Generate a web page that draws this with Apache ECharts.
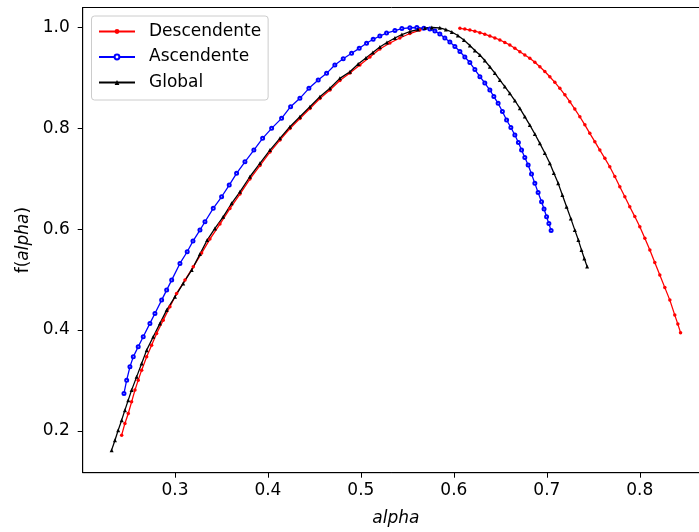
<!DOCTYPE html>
<html>
<head>
<meta charset="utf-8">
<script src="https://cdn.jsdelivr.net/npm/echarts@6/dist/echarts.min.js"></script>
<style>html,body{margin:0;padding:0;background:#fff;}#c{width:699px;height:532px;}</style>
</head>
<body>
<div id="c"></div>
<script>
const xTicks = [0.3, 0.4, 0.5, 0.6, 0.7, 0.8];
const yTicks = [0.2, 0.4, 0.6, 0.8, 1.0];
const seriesNames = ['Descendente', 'Ascendente', 'Global'];

// Descendente: left branch and right branch (no visible link between them in the source image)
const descAlphaLeft = [0.2427,0.2462,0.2498,0.2534,0.2570,0.2605,0.2642,0.2696,0.2749,0.2803,0.2874,0.2946,0.3018,0.3108,0.3197,0.3287,0.3376,0.3484,0.3591,0.3699,0.3806,0.3914,0.4022,0.4129,0.4237,0.4344,0.4452,0.4559,0.4667,0.4774,0.4882,0.4989,0.5097,0.5204,0.5312,0.5419,0.5527,0.5634];
const descFLeft = [0.1915,0.2147,0.2345,0.2575,0.2808,0.3006,0.3204,0.3468,0.3700,0.3933,0.4196,0.4460,0.4726,0.4990,0.5254,0.5526,0.5804,0.6101,0.6409,0.6696,0.6994,0.7262,0.7530,0.7768,0.7996,0.8194,0.8393,0.8591,0.8760,0.8948,0.9097,0.9256,0.9415,0.9573,0.9692,0.9792,0.9881,0.9950];
const descAlphaRight = [0.6065,0.6118,0.6172,0.6226,0.6280,0.6333,0.6387,0.6441,0.6495,0.6548,0.6602,0.6656,0.6710,0.6763,0.6817,0.6871,0.6925,0.6978,0.7032,0.7086,0.7140,0.7194,0.7247,0.7301,0.7355,0.7409,0.7462,0.7516,0.7570,0.7624,0.7677,0.7731,0.7785,0.7839,0.7892,0.7946,0.8000,0.8054,0.8108,0.8161,0.8215,0.8269,0.8323,0.8376,0.8409,0.8438];
const descFRight = [0.9984,0.9970,0.9950,0.9927,0.9897,0.9867,0.9831,0.9794,0.9752,0.9704,0.9653,0.9589,0.9520,0.9456,0.9389,0.9310,0.9222,0.9127,0.9024,0.8913,0.8794,0.8665,0.8528,0.8383,0.8230,0.8069,0.7901,0.7736,0.7569,0.7405,0.7238,0.7044,0.6841,0.6643,0.6444,0.6250,0.6048,0.5819,0.5585,0.5337,0.5089,0.4841,0.4593,0.4296,0.4117,0.3948];

const ascAlpha = [0.2452,0.2481,0.2516,0.2552,0.2605,0.2659,0.2731,0.2785,0.2857,0.2911,0.2965,0.3054,0.3132,0.3194,0.3269,0.3323,0.3412,0.3502,0.3584,0.3663,0.3753,0.3849,0.3943,0.4040,0.4147,0.4244,0.4344,0.4441,0.4541,0.4631,0.4720,0.4810,0.4900,0.4982,0.5061,0.5132,0.5204,0.5276,0.5366,0.5441,0.5527,0.5602,0.5677,0.5742,0.5796,0.5849,0.5903,0.5957,0.6011,0.6065,0.6118,0.6172,0.6226,0.6280,0.6333,0.6387,0.6430,0.6476,0.6522,0.6567,0.6613,0.6656,0.6694,0.6728,0.6763,0.6799,0.6835,0.6871,0.6906,0.6943,0.6970,0.6997,0.7022,0.7046];
const ascF = [0.2742,0.3006,0.3270,0.3468,0.3667,0.3865,0.4131,0.4329,0.4593,0.4792,0.4990,0.5321,0.5552,0.5764,0.5982,0.6147,0.6413,0.6643,0.6875,0.7107,0.7337,0.7569,0.7802,0.8000,0.8198,0.8429,0.8595,0.8794,0.8958,0.9091,0.9256,0.9379,0.9488,0.9587,0.9687,0.9766,0.9831,0.9891,0.9940,0.9980,0.9995,1.0000,0.9985,0.9970,0.9931,0.9871,0.9792,0.9712,0.9623,0.9524,0.9415,0.9306,0.9167,0.9024,0.8899,0.8760,0.8631,0.8496,0.8333,0.8165,0.8016,0.7867,0.7718,0.7569,0.7421,0.7272,0.7093,0.6909,0.6726,0.6544,0.6399,0.6246,0.6111,0.5972];

const globAlpha = [0.2319,0.2355,0.2390,0.2427,0.2462,0.2498,0.2534,0.2588,0.2642,0.2696,0.2767,0.2839,0.2911,0.3000,0.3089,0.3180,0.3269,0.3347,0.3430,0.3519,0.3610,0.3699,0.3806,0.3914,0.4022,0.4129,0.4237,0.4344,0.4452,0.4559,0.4667,0.4774,0.4882,0.4971,0.5054,0.5129,0.5204,0.5280,0.5366,0.5441,0.5527,0.5613,0.5688,0.5763,0.5849,0.5914,0.5978,0.6043,0.6108,0.6172,0.6226,0.6280,0.6333,0.6387,0.6441,0.6495,0.6548,0.6602,0.6656,0.6710,0.6763,0.6817,0.6871,0.6925,0.6978,0.7032,0.7075,0.7122,0.7167,0.7212,0.7258,0.7301,0.7339,0.7373,0.7403,0.7433];
const globF = [0.1617,0.1815,0.2014,0.2212,0.2411,0.2609,0.2808,0.3071,0.3337,0.3601,0.3865,0.4131,0.4395,0.4659,0.4925,0.5188,0.5506,0.5784,0.6016,0.6246,0.6512,0.6742,0.7040,0.7306,0.7569,0.7802,0.8032,0.8230,0.8429,0.8627,0.8794,0.8992,0.9123,0.9276,0.9395,0.9504,0.9613,0.9702,0.9792,0.9861,0.9921,0.9960,0.9990,1.0000,0.9994,0.9960,0.9911,0.9841,0.9752,0.9643,0.9544,0.9454,0.9345,0.9222,0.9097,0.8958,0.8829,0.8694,0.8552,0.8397,0.8234,0.8065,0.7887,0.7702,0.7510,0.7306,0.7113,0.6909,0.6677,0.6444,0.6210,0.5982,0.5784,0.5585,0.5417,0.5258];

function zip(a, b) { return a.map((v, i) => [v, b[i]]); }

const FONT = 'DejaVu Sans';
const FS = 17;
const chart = echarts.init(document.getElementById('c'), null, { renderer: 'canvas' });

function mkSeries(name, xs, ys, color, symbol, size) {
  return {
    name: name,
    type: 'line',
    data: zip(xs, ys),
    symbol: symbol,
    symbolSize: size,
    showSymbol: true,
    showAllSymbol: true,
    color: color,
    lineStyle: { color: color, width: 1.3 },
    itemStyle: { color: color, borderColor: color, borderWidth: symbol === 'emptyCircle' ? 1 : 0 },
    emphasis: { disabled: true },
    animation: false
  };
}

chart.setOption({
  animation: false,
  backgroundColor: '#ffffff',
  textStyle: { fontFamily: FONT },
  grid: {
    left: 82.7, top: 7.5, width: 626.3, height: 465.2,
    outerBoundsMode: 'none',
    show: true, borderColor: '#000', borderWidth: 1, backgroundColor: 'transparent',
    containLabel: false
  },
  legend: {
    orient: 'vertical',
    left: 91.5, top: 16,
    padding: [7, 7, 9, 6.5],
    itemWidth: 36, itemHeight: 6, itemGap: 8.5,
    borderColor: '#cccccc', borderWidth: 1, borderRadius: 3,
    backgroundColor: 'rgba(255,255,255,0.8)',
    textStyle: { fontFamily: FONT, fontSize: FS, color: '#000', padding: [0, 0, 0, 9], lineHeight: 17 },
    data: seriesNames
  },
  xAxis: {
    type: 'value', min: 0.2008, max: 0.8744,
    name: 'alpha', nameLocation: 'middle', nameGap: 37,
    nameTextStyle: { fontFamily: FONT, fontSize: FS, fontStyle: 'italic', color: '#000' },
    axisLine: { show: true, onZero: false, lineStyle: { color: '#000', width: 1 } },
    axisTick: { show: true, length: 5, inside: false, customValues: xTicks, lineStyle: { color: '#000', width: 1 } },
    axisLabel: { customValues: xTicks, margin: 9, fontFamily: FONT, fontSize: FS, color: '#000', formatter: v => v.toFixed(1) },
    splitLine: { show: false }
  },
  yAxis: {
    type: 'value', min: 0.117, max: 1.0397,
    name: '{n|f(}{i|alpha}{n|)}', nameLocation: 'middle', nameGap: 51,
    nameTextStyle: {
      fontFamily: FONT, fontSize: FS, color: '#000',
      rich: { n: { fontFamily: FONT, fontSize: FS, color: '#000' }, i: { fontFamily: FONT, fontSize: FS, fontStyle: 'italic', color: '#000' } }
    },
    axisLine: { show: true, onZero: false, lineStyle: { color: '#000', width: 1 } },
    axisTick: { show: true, length: 5, inside: false, customValues: yTicks, lineStyle: { color: '#000', width: 1 } },
    axisLabel: { customValues: yTicks, margin: 13, fontFamily: FONT, fontSize: FS, color: '#000', formatter: v => v.toFixed(1) },
    splitLine: { show: false }
  },
  series: [
    mkSeries(seriesNames[0], descAlphaLeft, descFLeft, '#ff0000', 'circle', 3.5),
    mkSeries(seriesNames[0], descAlphaRight, descFRight, '#ff0000', 'circle', 3.5),
    mkSeries(seriesNames[1], ascAlpha, ascF, '#0000ff', 'emptyCircle', 3),
    mkSeries(seriesNames[2], globAlpha, globF, '#000000', 'triangle', 4)
  ]
});
</script>
</body>
</html>
